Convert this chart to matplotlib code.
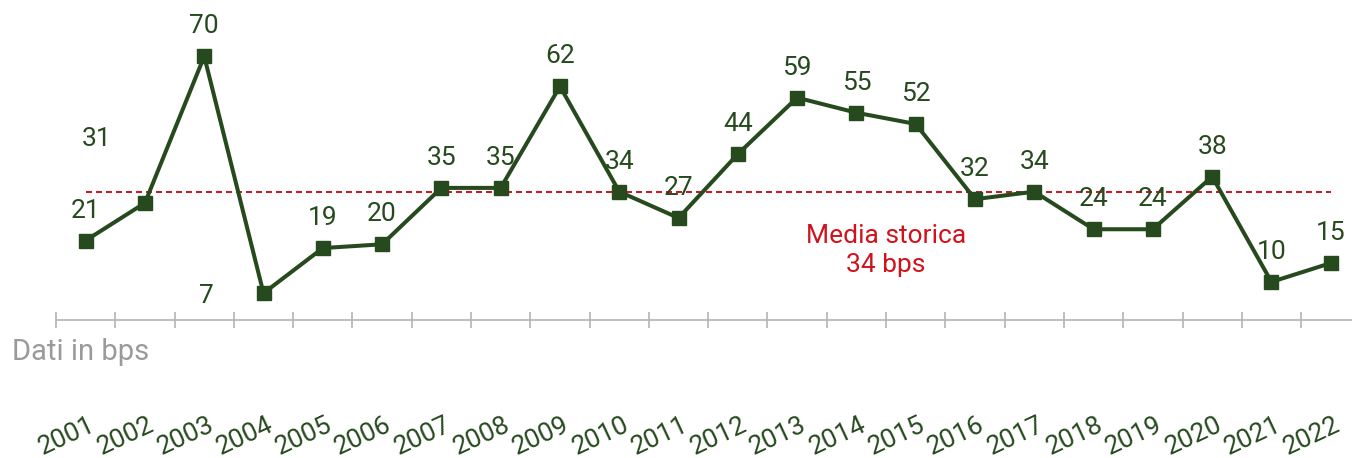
import numpy as np
import matplotlib.pyplot as plt
from matplotlib.transforms import ScaledTranslation

plt.rcParams['font.family'] = ['Roboto', 'DejaVu Sans']
plt.rcParams['lines.scale_dashes'] = False

years = [str(y) for y in range(2001, 2023)]
spread = [21, 31, 70, 7, 19, 20, 35, 35, 62, 34, 27, 44, 59, 55, 52, 32, 34, 24, 24, 38, 10, 15]
avg_label = "Media storica\n34 bps"

GREEN = '#264a1e'
RED = '#d0121b'
GREY = '#b3b3b3'

W, H = 1352, 458
fig = plt.figure(figsize=(W / 100, H / 100), dpi=100)
axis_y = 319.5          # pixel row of the x axis
step = 59.29            # pixels per year
ax = fig.add_axes([56 / W, (H - axis_y) / H, (W - 56) / W, axis_y / H])
ax.set_xlim(-0.5, -0.5 + (W - 56) / step)
ax.set_ylim(0, axis_y / 3.76)

x = np.arange(len(spread))
mean = np.mean(spread)

ax.plot([x[0], x[-1]], [mean, mean], color=RED, lw=1.4, dashes=(4.3, 2.9), zorder=1)
ax.plot(x, spread, color=GREEN, lw=2.9, marker='s', ms=9.4, zorder=3, clip_on=False)

# value labels; two of them sit away from their point
label_shift = {1: (-48, 57), 3: (-57, -10)}
for i, v in enumerate(spread):
    dx, dy = label_shift.get(i, (0, 23))
    ax.annotate(str(v), (x[i], v), xytext=(dx, dy), textcoords='offset pixels',
                ha='center', va='baseline', fontsize=19, color=GREEN)

ax.annotate(avg_label, (13.5, mean), xytext=(0, -59), textcoords='offset pixels',
            ha='center', va='center', multialignment='center', fontsize=19,
            color=RED, linespacing=1.25)

for s in ['left', 'top', 'right']:
    ax.spines[s].set_visible(False)
ax.spines['bottom'].set_color(GREY)
ax.spines['bottom'].set_linewidth(1.2)
ax.set_yticks([])

ax.set_xticks(x, labels=years)
ax.set_xticks(np.arange(-0.5, len(spread) - 0.5, 1), minor=True)
ax.tick_params(axis='x', which='major', length=0, pad=67, labelsize=19,
               labelcolor=GREEN, labelrotation=25)
ax.tick_params(axis='x', which='minor', length=12, width=1.2, direction='inout', color=GREY)
shift = ScaledTranslation(3 / 100, 0, fig.dpi_scale_trans)
for lbl in ax.get_xticklabels():
    lbl.set_ha('right')
    lbl.set_rotation_mode('anchor')
    lbl.set_transform(lbl.get_transform() + shift)

fig.text(12 / W, (H - 360) / H, "Dati in bps", fontsize=21, color='#9a9a9a',
         ha='left', va='baseline')

fig.savefig('out.png', dpi=100)
